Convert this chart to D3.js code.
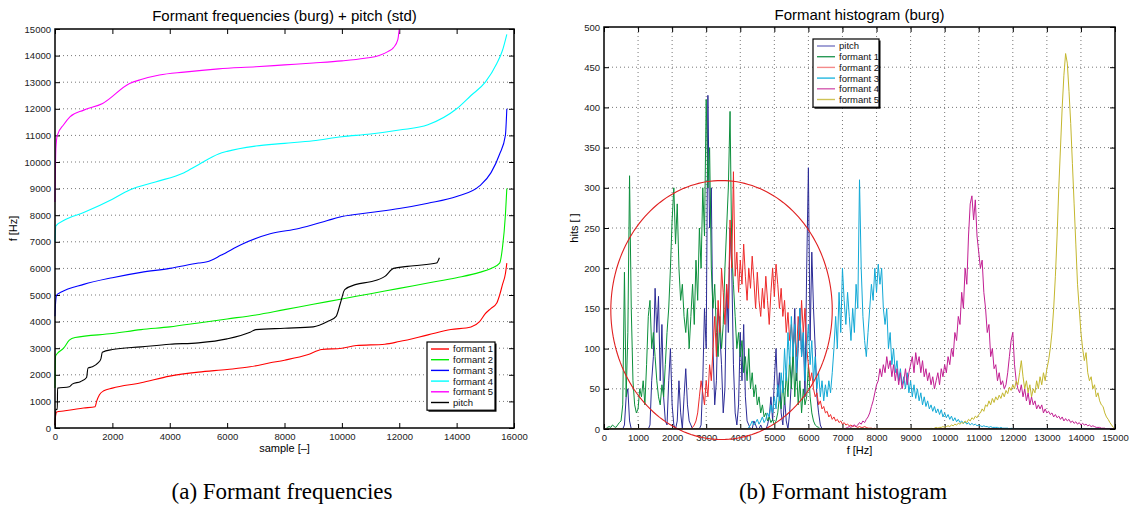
<!DOCTYPE html>
<html>
<head>
<meta charset="utf-8">
<script src="https://cdn.jsdelivr.net/npm/d3@7/dist/d3.min.js"></script>
<style>
  html, body { margin: 0; padding: 0; background: #fff; }
  svg { display: block; }
</style>
</head>
<body>
<svg id="fig" width="1130" height="508"></svg>
<script>
// ---------- (a) sorted formant tracks + pitch ----------
const sampleTicks = [0, 2000, 4000, 6000, 8000, 10000, 12000, 14000, 16000];
const freqTicksA = [0, 1000, 2000, 3000, 4000, 5000, 6000, 7000, 8000, 9000, 10000, 11000, 12000, 13000, 14000, 15000];

const formant1Track = [[0,100],[20,450],[60,600],[300,640],[1000,750],[1400,800],[1450,1000],[1550,1250],[1700,1400],[2000,1500],[3000,1700],[4000,1950],[5000,2100],[6000,2200],[6800,2300],[7500,2450],[8000,2550],[8800,2750],[9300,2950],[10000,3000],[10500,3100],[11500,3150],[12000,3250],[13000,3500],[13800,3700],[14500,3800],[14800,4000],[15000,4300],[15200,4500],[15400,4700],[15500,5000],[15600,5400],[15700,5800],[15750,6200]];
const formant2Track = [[0,1500],[20,2700],[80,2800],[300,3000],[500,3300],[700,3400],[2000,3550],[3000,3700],[4000,3800],[5000,3950],[6000,4100],[7000,4250],[8000,4450],[9000,4650],[10000,4850],[11000,5050],[12000,5250],[13000,5450],[14000,5650],[14800,5850],[15200,6000],[15500,6200],[15600,6800],[15700,8000],[15750,9000]];
const formant3Track = [[0,4200],[20,4700],[60,5000],[200,5100],[1000,5400],[2000,5650],[3000,5850],[4000,6000],[5000,6200],[5300,6250],[5800,6500],[6500,6900],[7500,7300],[8500,7500],[9500,7800],[10000,7950],[11000,8100],[12000,8250],[13000,8450],[14000,8700],[14800,9100],[15200,9600],[15500,10300],[15700,11000],[15750,12000]];
const formant4Track = [[0,7000],[30,7600],[300,7800],[1000,8100],[2000,8600],[2600,8950],[3500,9250],[4500,9600],[5000,9900],[5700,10300],[6000,10400],[7000,10600],[8000,10700],[9000,10800],[10000,10950],[11000,11050],[12000,11200],[13000,11400],[14000,12000],[14500,12500],[15000,13000],[15400,13700],[15600,14200],[15750,14800]];
const formant5Track = [[0,8500],[30,10500],[80,11000],[300,11400],[520,11700],[1000,11950],[1660,12200],[2600,12950],[3000,13100],[3640,13270],[4500,13380],[5700,13500],[7000,13580],[8000,13650],[9000,13720],[10000,13800],[10800,13900],[11300,14000],[11600,14150],[11800,14300],[11950,14600],[12000,15000]];
const pitchTrack = [[0,100],[30,700],[80,700],[90,1500],[500,1550],[600,1650],[900,1750],[1100,1900],[1150,2250],[1300,2300],[1500,2450],[1600,2600],[1650,2850],[2000,2950],[3000,3050],[4000,3150],[5000,3200],[6000,3350],[6800,3600],[7000,3700],[8000,3750],[9000,3800],[9500,4000],[9800,4200],[9950,4700],[10100,5200],[10500,5400],[11000,5500],[11500,5700],[11800,6000],[12500,6100],[13300,6200],[13400,6400]];

const tracksA = [
  { name: "formant 1", color: "#ff0000", data: formant1Track },
  { name: "formant 2", color: "#00ee00", data: formant2Track },
  { name: "formant 3", color: "#0000ff", data: formant3Track },
  { name: "formant 4", color: "#00ffff", data: formant4Track },
  { name: "formant 5", color: "#ff00ff", data: formant5Track },
  { name: "pitch",     color: "#000000", data: pitchTrack }
];

// ---------- (b) histograms, 50 Hz bins ----------
const freqTicksB = [0,1000,2000,3000,4000,5000,6000,7000,8000,9000,10000,11000,12000,13000,14000,15000];
const hitTicks = [0,50,100,150,200,250,300,350,400,450,500];
const binWidth = 50;

const pitchStart = 500;
const pitchHits = [0,0,5,40,50,10,0,0,0,0,0,0,0,0,0,0,0,5,60,90,175,120,165,60,130,40,10,5,60,100,30,5,0,10,60,20,0,40,75,30,10,5,0,0,0,0,0,5,60,150,100,415,250,300,100,30,60,150,120,80,20,50,180,120,250,200,80,20,5,30,120,60,130,40,10,5,0,0,10,5,0,0,5,0,0,0,5,15,40,10,60,100,40,70,20,5,40,10,0,20,60,90,150,60,100,150,90,120,40,200,325,110,220,150,100,40,20,5,0,0,0];

const formant1Start = 0;
const formant1Hits = [0,0,2,3,2,5,3,2,5,8,10,30,195,40,120,315,150,60,30,20,25,50,40,60,30,80,140,160,100,120,90,60,40,30,55,40,80,120,150,200,260,300,230,280,200,160,180,140,120,150,100,140,180,130,210,160,250,200,300,240,410,300,350,200,150,180,120,90,140,100,130,200,250,300,395,220,180,140,100,120,90,110,70,90,60,100,50,70,40,55,30,40,20,30,15,20,10,15,8,12,5,10,20,40,25,60,30,70,40,90,50,100,40,80,30,60,20,50,30,40,80,40,20,10,5,3,2,0,0,0,0,0,0,0,0,0,0,0,0,0,0];

const formant2Start = 2500;
const formant2Hits = [0,0,2,5,10,20,40,60,45,30,60,40,80,60,100,140,90,160,120,200,170,130,180,150,260,200,320,190,220,170,210,180,230,190,160,200,175,215,185,150,195,160,140,175,150,190,160,130,170,200,165,205,180,150,175,140,160,120,145,110,130,100,120,90,140,110,160,120,150,100,80,60,70,50,40,45,30,35,25,28,20,22,15,18,12,15,10,12,8,10,6,8,5,6,4,5,3,4,3,2,3,2,2,3,2,1,1,1,0,1,0,0,0];

const formant3Start = 4200;
const formant3Hits = [0,2,5,10,5,8,12,6,10,15,8,12,20,15,30,20,40,25,55,35,70,45,100,60,120,80,140,90,130,70,110,150,90,120,60,100,130,80,110,60,90,50,70,40,60,35,55,40,60,45,70,100,140,100,170,120,200,160,130,170,140,110,150,120,180,150,310,200,140,110,90,120,150,180,160,200,170,205,180,200,150,130,150,100,120,80,100,70,85,60,75,55,65,50,70,45,60,40,55,38,50,35,45,30,40,28,35,25,30,22,28,20,25,18,24,15,20,14,18,12,16,10,14,9,12,8,10,7,9,6,8,5,7,5,6,4,5,4,3,4,3,3,2,3,2,2,2,2,1,2,1,1,1,1,0,1,0,0,0];

const formant4Start = 7000;
const formant4Hits = [0,0,1,2,3,2,4,5,3,5,8,6,10,8,12,15,20,28,35,45,55,60,75,65,80,70,90,75,85,65,80,60,75,55,70,50,60,75,55,70,80,90,70,95,80,90,70,85,65,75,60,70,55,65,50,60,70,55,75,65,80,70,90,80,100,90,120,110,140,130,170,150,200,180,240,280,290,260,285,240,220,200,210,170,150,120,130,90,100,75,80,60,70,55,60,50,55,70,90,110,120,80,60,50,45,55,40,50,35,45,30,40,30,35,25,30,25,30,20,25,20,22,18,20,15,18,14,16,12,15,10,13,10,12,8,10,7,9,6,8,5,7,5,6,4,5,3,4,3,2,2,2,1,1,1,0,0,0,0,0,0];

const formant5Start = 9500;
const formant5Hits = [0,0,1,0,1,2,1,2,2,3,2,3,4,3,5,4,6,5,7,6,8,7,10,8,12,10,14,12,16,14,18,20,25,22,30,28,35,30,38,33,40,36,42,38,45,40,48,44,52,48,55,50,60,55,70,85,65,50,60,45,55,40,50,45,60,50,65,55,70,60,75,85,100,120,150,190,240,300,350,400,440,467,455,420,380,330,280,230,180,150,120,100,85,95,70,60,65,50,55,40,45,35,30,28,20,15,12,8,5,2,0];

const histSeries = [
  { name: "pitch",     color: "#2b2b96", legendColor: "#7a7ac4", start: pitchStart,    hits: pitchHits },
  { name: "formant 1", color: "#0b8f3c", legendColor: "#2a9a58", start: formant1Start, hits: formant1Hits },
  { name: "formant 2", color: "#ee2a2a", legendColor: "#f48a8a", start: formant2Start, hits: formant2Hits },
  { name: "formant 3", color: "#12a9d6", legendColor: "#22b8e0", start: formant3Start, hits: formant3Hits },
  { name: "formant 4", color: "#c21f93", legendColor: "#d45cb0", start: formant4Start, hits: formant4Hits },
  { name: "formant 5", color: "#c4b72e", legendColor: "#cfc356", start: formant5Start, hits: formant5Hits }
];

// highlighted region: centre (Hz, hits) and radii (Hz, hits)
const markCentre = [3450, 148];
const markRadius = [3250, 161];

// ---------- drawing ----------
const svg = d3.select("#fig");
const FONT = "'Liberation Sans', Arial, sans-serif";

function frame(g, x, y, xTicks, yTicks, opts) {
  const [x0, x1] = x.range();
  const [y0, y1] = y.range();
  // dotted grid
  if (opts.gridX) {
    g.append("g").selectAll("line").data(xTicks.slice(1, -1)).join("line")
      .attr("x1", d => x(d)).attr("x2", d => x(d)).attr("y1", y0).attr("y2", y1)
      .attr("stroke", "#555").attr("stroke-width", 0.8).attr("stroke-dasharray", "1,3");
  }
  g.append("g").selectAll("line").data(yTicks.slice(1, -1)).join("line")
    .attr("x1", x0).attr("x2", x1).attr("y1", d => y(d)).attr("y2", d => y(d))
    .attr("stroke", "#555").attr("stroke-width", 0.8).attr("stroke-dasharray", "1,3");

  const tl = 5;
  const ax = (sel) => sel.call(s => s.select(".domain").remove())
    .call(s => s.selectAll(".tick line").attr("stroke", "#000"))
    .call(s => s.selectAll(".tick text").attr("font-size", 9.5).attr("fill", "#222").attr("font-family", FONT));
  g.append("g").attr("transform", `translate(0,${y0})`)
    .call(d3.axisBottom(x).tickValues(xTicks).tickSize(-tl).tickPadding(5).tickFormat(d3.format("d")))
    .call(ax);
  g.append("g").attr("transform", `translate(0,${y1})`)
    .call(d3.axisTop(x).tickValues(xTicks).tickSize(-tl).tickFormat(""))
    .call(ax);
  g.append("g").attr("transform", `translate(${x0},0)`)
    .call(d3.axisLeft(y).tickValues(yTicks).tickSize(-tl).tickPadding(4).tickFormat(d3.format("d")))
    .call(ax);
  g.append("g").attr("transform", `translate(${x1},0)`)
    .call(d3.axisRight(y).tickValues(yTicks).tickSize(-tl).tickFormat(""))
    .call(ax);
}

function box(g, x, y) {
  const [x0, x1] = x.range();
  const [y0, y1] = y.range();
  g.append("rect").attr("x", x0).attr("y", y1).attr("width", x1 - x0).attr("height", y0 - y1)
    .attr("fill", "none").attr("stroke", "#000").attr("stroke-width", 1.5);
}

function legend(g, items, left, top, width, colorKey) {
  const rowH = 10.7;
  const h = items.length * rowH + 4;
  g.append("rect").attr("x", left + 1.5).attr("y", top + 1.5).attr("width", width).attr("height", h)
    .attr("fill", "#000");
  g.append("rect").attr("x", left).attr("y", top).attr("width", width).attr("height", h)
    .attr("fill", "#fff").attr("stroke", "#000").attr("stroke-width", 1.2);
  items.forEach((d, i) => {
    const cy = top + 7 + i * rowH;
    g.append("line").attr("x1", left + 4).attr("x2", left + 22).attr("y1", cy).attr("y2", cy)
      .attr("stroke", d[colorKey]).attr("stroke-width", 1.4);
    g.append("text").attr("x", left + 26).attr("y", cy + 3.4).attr("font-size", 9.5)
      .attr("font-family", FONT).attr("fill", "#111").text(d.name);
  });
}

// ----- panel (a) -----
const A = { left: 55, right: 514, top: 29, bottom: 428 };
const xa = d3.scaleLinear().domain([0, 16000]).range([A.left, A.right]);
const ya = d3.scaleLinear().domain([0, 15000]).range([A.bottom, A.top]);
const ga = svg.append("g");
frame(ga, xa, ya, sampleTicks, freqTicksA, { gridX: false });

const lineA = d3.line().x(d => xa(d[0])).y(d => ya(d[1])).curve(d3.curveMonotoneX);
ga.append("g").selectAll("path").data(tracksA).join("path")
  .attr("d", d => lineA(d.data)).attr("fill", "none")
  .attr("stroke", d => d.color).attr("stroke-width", 1.1);
box(ga, xa, ya);
legend(ga, tracksA, 427, 342, 68, "color");

ga.append("text").attr("x", (A.left + A.right) / 2).attr("y", 21).attr("text-anchor", "middle")
  .attr("font-family", FONT).attr("font-size", 15).text("Formant frequencies (burg) + pitch (std)");
ga.append("text").attr("x", (A.left + A.right) / 2).attr("y", 452).attr("text-anchor", "middle")
  .attr("font-family", FONT).attr("font-size", 11).text("sample [\u2013]");
ga.append("text").attr("transform", `translate(17,${(A.top + A.bottom) / 2}) rotate(-90)`).attr("text-anchor", "middle")
  .attr("font-family", FONT).attr("font-size", 11).text("f [Hz]");

// ----- panel (b) -----
const B = { left: 604, right: 1115, top: 27, bottom: 429 };
const xb = d3.scaleLinear().domain([0, 15000]).range([B.left, B.right]);
const yb = d3.scaleLinear().domain([0, 500]).range([B.bottom, B.top]);
const gb = svg.append("g");
frame(gb, xb, yb, freqTicksB, hitTicks, { gridX: true });

gb.append("clipPath").attr("id", "clipb").append("rect")
  .attr("x", B.left).attr("y", B.top).attr("width", B.right - B.left).attr("height", B.bottom - B.top);

const lineB = d3.line().x(d => xb(d[0])).y(d => yb(d[1]));
function histPoints(s) {
  const pts = [[0, 0]];
  s.hits.forEach((v, i) => pts.push([s.start + i * binWidth, v]));
  pts.push([15000, 0]);
  return pts;
}
gb.append("g").attr("clip-path", "url(#clipb)").selectAll("path").data(histSeries).join("path")
  .attr("d", d => lineB(histPoints(d))).attr("fill", "none")
  .attr("stroke", d => d.color).attr("stroke-width", 1);

// red ellipse around the low-frequency region
const ellipse = d3.range(0, 361, 2).map(a => [
  markCentre[0] + markRadius[0] * Math.cos(a * Math.PI / 180),
  markCentre[1] + markRadius[1] * Math.sin(a * Math.PI / 180)
]);
gb.append("path").attr("d", lineB(ellipse)).attr("fill", "none")
  .attr("stroke", "#e02020").attr("stroke-width", 1.1);

box(gb, xb, yb);
legend(gb, histSeries, 813, 39, 66, "legendColor");

gb.append("text").attr("x", (B.left + B.right) / 2).attr("y", 20).attr("text-anchor", "middle")
  .attr("font-family", FONT).attr("font-size", 15).text("Formant histogram (burg)");
gb.append("text").attr("x", (B.left + B.right) / 2).attr("y", 454).attr("text-anchor", "middle")
  .attr("font-family", FONT).attr("font-size", 11).text("f [Hz]");
gb.append("text").attr("transform", `translate(578,${(B.top + B.bottom) / 2}) rotate(-90)`).attr("text-anchor", "middle")
  .attr("font-family", FONT).attr("font-size", 11).text("hits [ ]");

// ----- sub-captions -----
const SERIF = "'Liberation Serif', 'DejaVu Serif', serif";
svg.append("text").attr("x", 282).attr("y", 499).attr("text-anchor", "middle")
  .attr("font-family", SERIF).attr("font-size", 23).text("(a) Formant frequencies");
svg.append("text").attr("x", 843).attr("y", 499).attr("text-anchor", "middle")
  .attr("font-family", SERIF).attr("font-size", 23).text("(b) Formant histogram");
</script>
</body>
</html>
